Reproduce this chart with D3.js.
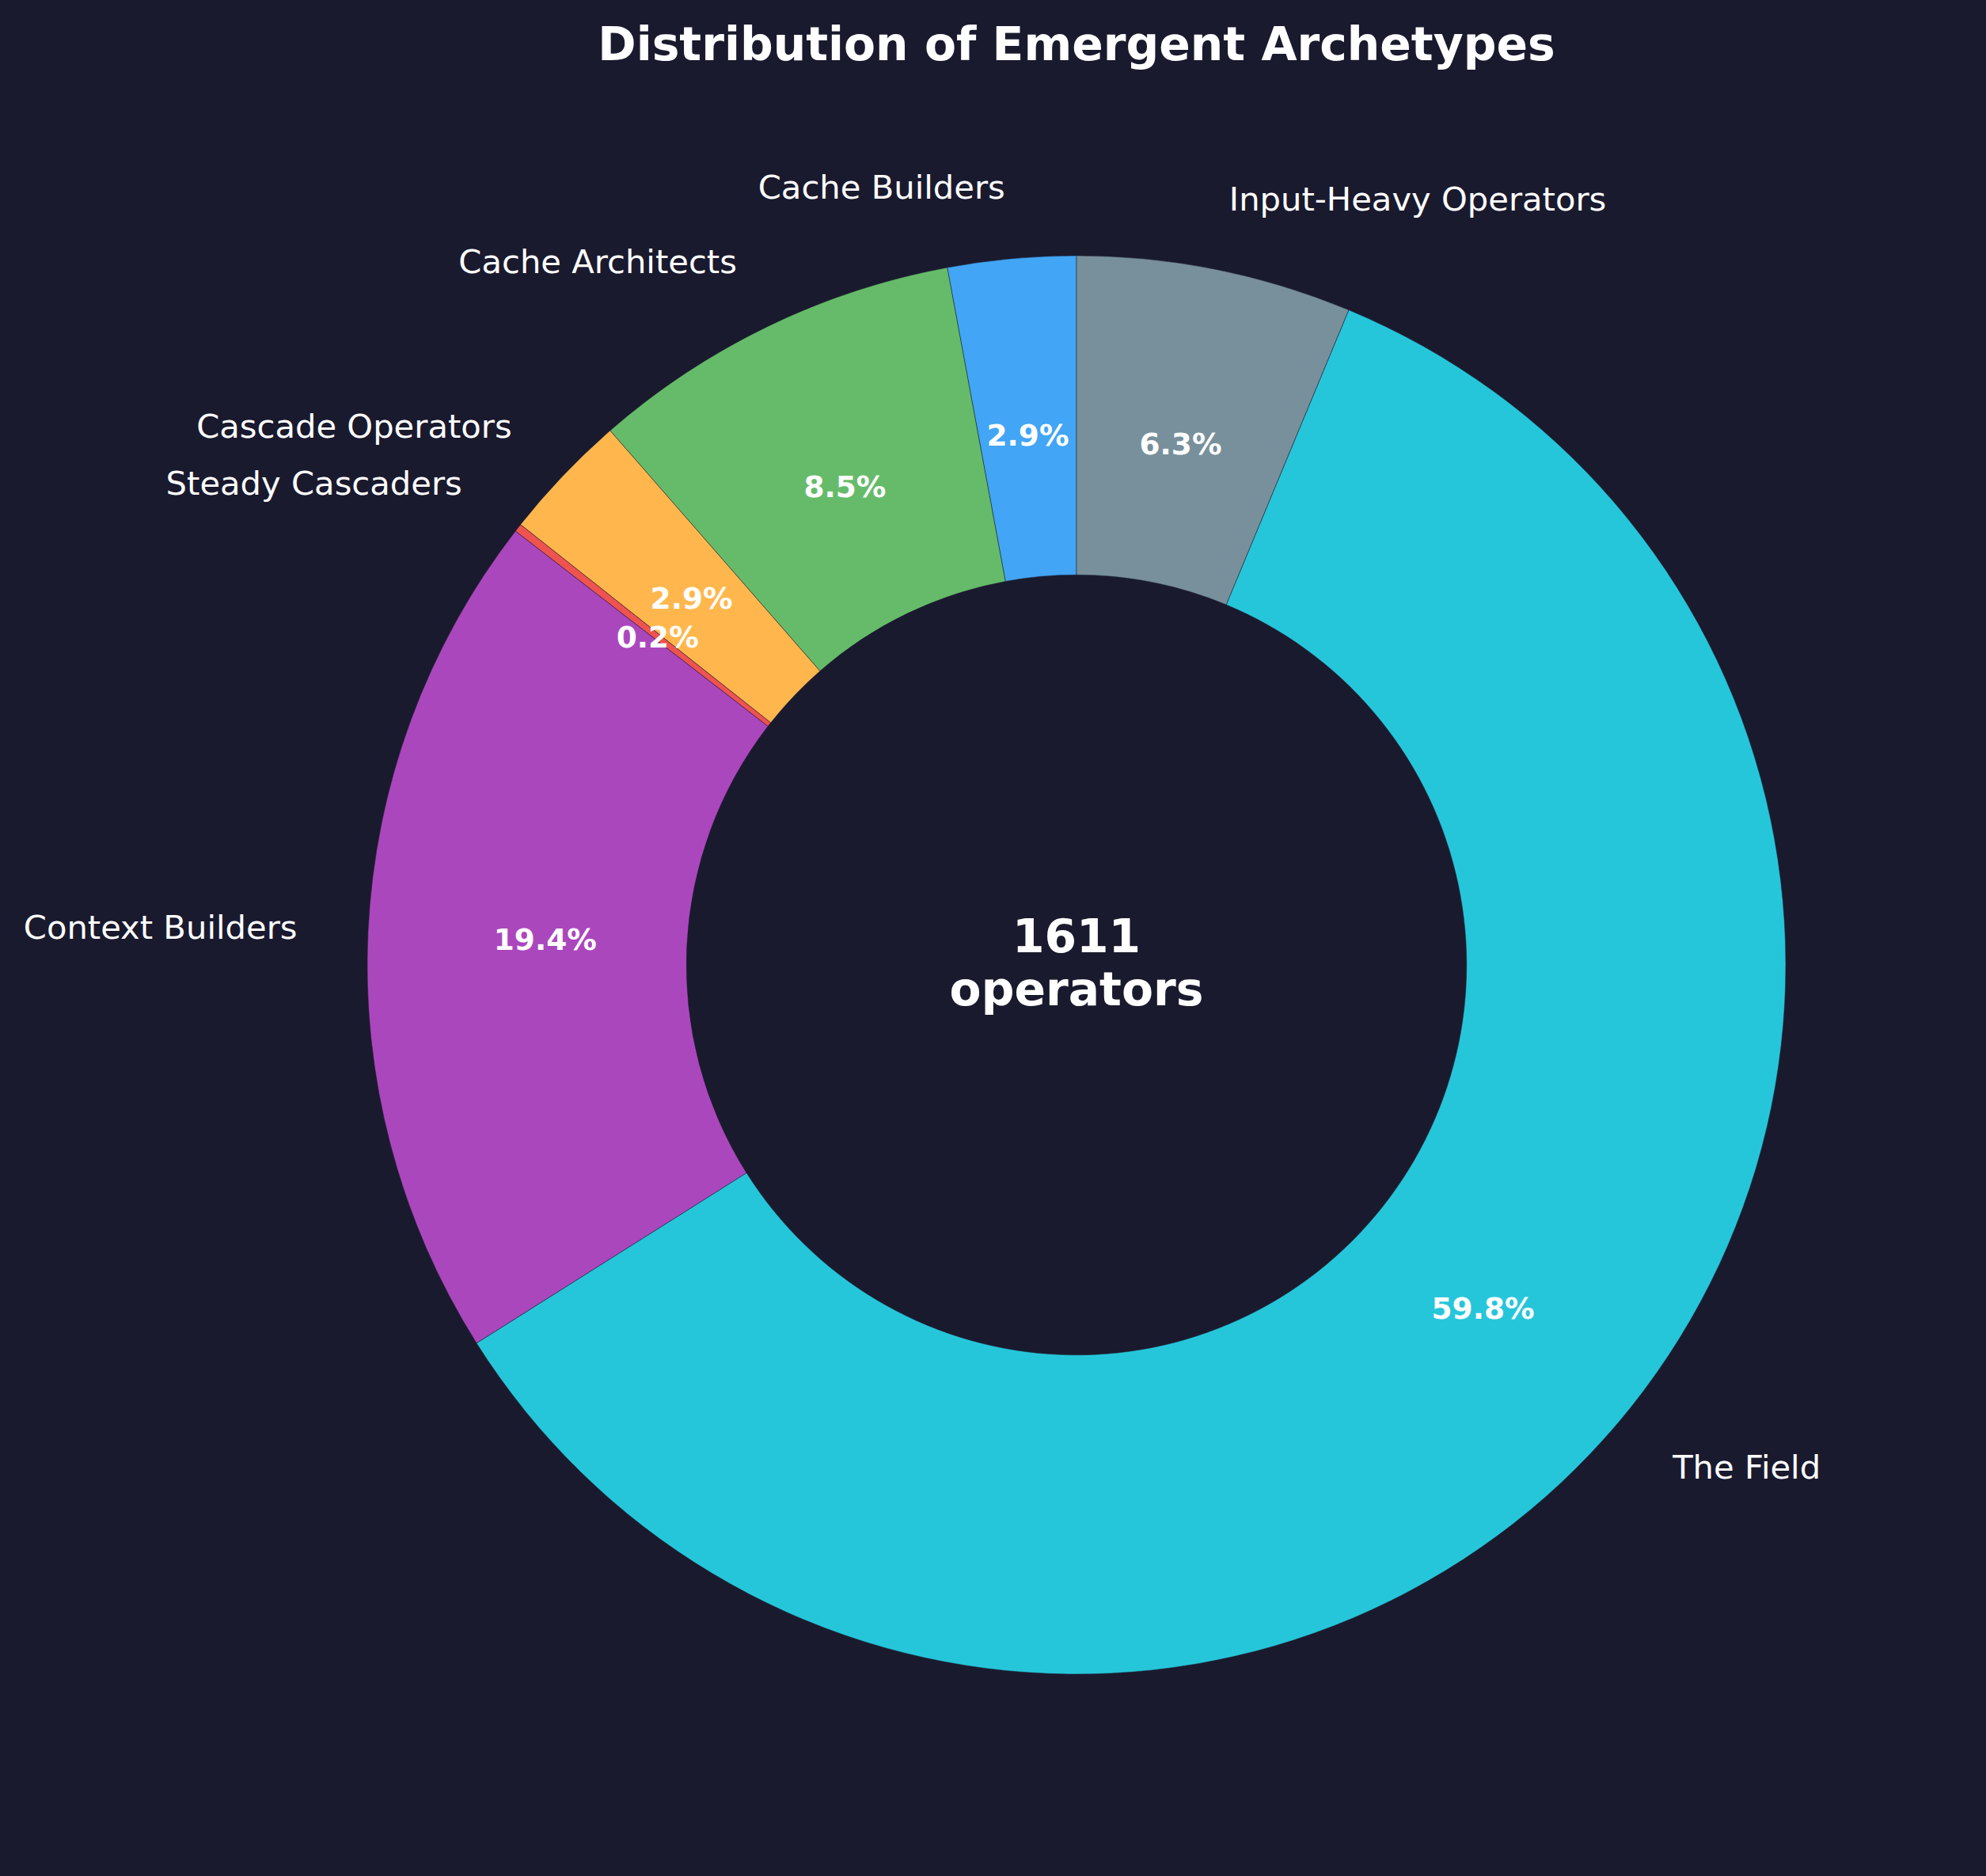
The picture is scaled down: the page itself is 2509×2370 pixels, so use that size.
<!DOCTYPE html>
<meta charset="utf-8">
<style>
  body { margin: 0; background: #1a1a2e; }
  svg { display: block; font-family: "DejaVu Sans", sans-serif; }
  .label { fill: #ffffff; font-size: 41.7px; }
  .pct { fill: #ffffff; font-size: 37.5px; font-weight: bold; }
  .center { fill: #ffffff; font-size: 58.3px; font-weight: bold; }
</style>
<body>
<script src="https://d3js.org/d3.v7.min.js"></script>
<script>

// archetypes, counter-clockwise from 12 o'clock
var names = ["Cache Builders", "Cache Architects", "Cascade Operators", "Steady Cascaders",
             "Context Builders", "The Field", "Input-Heavy Operators"];
var counts = [47, 137, 47, 3, 313, 963, 101];
var colors = ["#42A5F5", "#66BB6A", "#FFB74D", "#EF5350", "#AB47BC", "#26C6DA", "#78909C"];

var width = 2509, height = 2370;
var cx = 1360, cy = 1219, R = 896;

var total = d3.sum(counts);
var data = names.map(function(n, i) { return {name: n, value: counts[i], color: colors[i]}; });

var svg = d3.select("body").append("svg")
    .attr("width", width)
    .attr("height", height);

svg.append("rect").attr("width", width).attr("height", height).attr("fill", "#1a1a2e");

svg.append("text")
    .attr("x", cx)
    .attr("y", 76)
    .attr("text-anchor", "middle")
    .attr("fill", "#ffffff")
    .style("font-size", "58.3px")
    .style("font-weight", "bold")
    .text("Distribution of Emergent Archetypes");

var pie = d3.pie()
    .sort(null)
    .startAngle(0)
    .endAngle(-2 * Math.PI)
    .value(function(d) { return d.value; });

var arc = d3.arc().innerRadius(R * 0.55).outerRadius(R);

var g = svg.append("g").attr("transform", "translate(" + cx + "," + cy + ")");
var arcs = pie(data);

g.selectAll("path")
  .data(arcs)
  .enter().append("path")
    .attr("d", arc)
    .attr("fill", function(d) { return d.data.color; })
    .attr("stroke", "#1a1a2e")
    .attr("stroke-width", 0.5);

function mid(d) { return (d.startAngle + d.endAngle) / 2; }

g.selectAll(".label")
  .data(arcs)
  .enter().append("text")
    .attr("class", "label")
    .attr("x", function(d) { return Math.sin(mid(d)) * R * 1.1; })
    .attr("y", function(d) { return -Math.cos(mid(d)) * R * 1.1; })
    .attr("dy", "0.33em")
    .attr("text-anchor", function(d) { return Math.sin(mid(d)) < 0 ? "end" : "start"; })
    .text(function(d) { return d.data.name; });

g.selectAll(".pct")
  .data(arcs)
  .enter().append("text")
    .attr("class", "pct")
    .attr("x", function(d) { return Math.sin(mid(d)) * R * 0.75; })
    .attr("y", function(d) { return -Math.cos(mid(d)) * R * 0.75; })
    .attr("dy", "0.36em")
    .attr("text-anchor", "middle")
    .text(function(d) { return (d.data.value / total * 100).toFixed(1) + "%"; });

g.append("text").attr("class", "center")
    .attr("y", -16).attr("text-anchor", "middle").text(total);
g.append("text").attr("class", "center")
    .attr("y", 51).attr("text-anchor", "middle").text("operators");

</script>
